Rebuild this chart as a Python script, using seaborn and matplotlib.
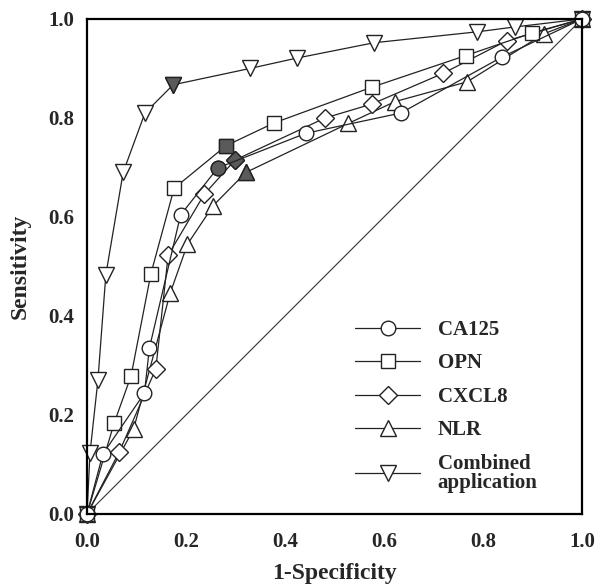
import matplotlib
matplotlib.use("Agg")
import matplotlib.pyplot as plt
import seaborn as sns
import numpy as np
from matplotlib.lines import Line2D
from matplotlib.ticker import MultipleLocator

# ---- data ----
ca125_x = [0, 0.032, 0.116, 0.126, 0.189, 0.264, 0.442, 0.634, 0.838, 1]
ca125_y = [0, 0.121, 0.244, 0.335, 0.604, 0.699, 0.769, 0.810, 0.923, 1]
ca125_best = 5

opn_x = [0, 0.055, 0.089, 0.129, 0.176, 0.281, 0.378, 0.575, 0.765, 0.900, 1]
opn_y = [0, 0.184, 0.279, 0.485, 0.658, 0.744, 0.790, 0.862, 0.926, 0.972, 1]
opn_best = 5

cxcl8_x = [0, 0.065, 0.139, 0.164, 0.237, 0.299, 0.481, 0.575, 0.719, 0.848, 1]
cxcl8_y = [0, 0.125, 0.293, 0.523, 0.646, 0.715, 0.800, 0.828, 0.890, 0.956, 1]
cxcl8_best = 5

nlr_x = [0, 0.094, 0.168, 0.203, 0.255, 0.321, 0.528, 0.622, 0.768, 0.923, 1]
nlr_y = [0, 0.171, 0.446, 0.545, 0.623, 0.690, 0.789, 0.833, 0.873, 0.970, 1]
nlr_best = 5

comb_x = [0, 0.006, 0.022, 0.038, 0.073, 0.117, 0.174, 0.329, 0.424, 0.580, 0.788, 0.865, 1]
comb_y = [0, 0.123, 0.270, 0.483, 0.690, 0.810, 0.867, 0.900, 0.921, 0.952, 0.974, 0.984, 1]
comb_best = 6

labels = ["CA125", "OPN", "CXCL8", "NLR", "Combined\napplication"]
xticks = [0.0, 0.2, 0.4, 0.6, 0.8, 1.0]
yticks = [0.0, 0.2, 0.4, 0.6, 0.8, 1.0]

sns.set_style("white")
plt.rcParams['font.family'] = ['Liberation Serif', 'DejaVu Serif']
plt.rcParams['font.weight'] = 'bold'

fig = plt.figure(figsize=(5.96, 5.84), dpi=100)
ax = fig.add_axes([0.146, 0.12, 0.8305, 0.8475])

# diagonal reference
sns.lineplot(x=[0, 1], y=[0, 1], ax=ax, color='#333333', linewidth=0.8, sort=False)

series = [
    (ca125_x, ca125_y, ca125_best, 'o', 10.5),
    (opn_x, opn_y, opn_best, 's', 10),
    (cxcl8_x, cxcl8_y, cxcl8_best, 'D', 9),
    (nlr_x, nlr_y, nlr_best, '^', 12),
    (comb_x, comb_y, comb_best, 'v', 12),
]

handles = []
for (xs, ys, bi, mk, ms), lab in zip(series, labels):
    handles.append(Line2D([], [], color='#222222', linewidth=0.9, marker=mk,
                          markersize=ms, markerfacecolor='white',
                          markeredgecolor='#222222', markeredgewidth=1.0))

# draw in reverse so the CA125 circles sit on top at the shared end points
for (xs, ys, bi, mk, ms) in series[::-1]:
    sns.lineplot(x=xs, y=ys, ax=ax, sort=False, color='#222222', linewidth=0.9,
                 marker=mk, markersize=ms, markerfacecolor='white',
                 markeredgecolor='#222222', markeredgewidth=1.0, clip_on=False)
    sns.lineplot(x=[xs[bi]], y=[ys[bi]], ax=ax, color='#222222', linewidth=0,
                 marker=mk, markersize=ms, markerfacecolor='#5a5a5a',
                 markeredgecolor='#222222', markeredgewidth=1.0)

ax.set_xlim(0, 1)
ax.set_ylim(0, 1)
ax.xaxis.set_minor_locator(MultipleLocator(0.1))
ax.yaxis.set_minor_locator(MultipleLocator(0.1))
ax.set_xticks(xticks)
ax.set_yticks(yticks)
ax.set_xticklabels([f"{t:.1f}" for t in xticks], fontsize=15, fontweight='bold')
ax.set_yticklabels([f"{t:.1f}" for t in yticks], fontsize=15, fontweight='bold')
ax.tick_params(axis='both', which='both', direction='in', length=7, width=1.2,
               color='black')
ax.tick_params(axis='x', which='major', pad=13)
ax.tick_params(axis='y', which='major', pad=9)
ax.tick_params(axis='x', which='both', top=False)
ax.tick_params(axis='y', which='both', right=False)
for sp in ax.spines.values():
    sp.set_linewidth(1.6)
    sp.set_color('black')

ax.set_xlabel("1-Specificity", fontsize=17, fontweight='bold', labelpad=8)
ax.set_ylabel("Sensitivity", fontsize=17, fontweight='bold', labelpad=13)

leg = ax.legend(handles, labels, loc='upper left', bbox_to_anchor=(0.504, 0.43),
                frameon=False, handlelength=3.1, labelspacing=0.65,
                handletextpad=0.85, prop={'weight': 'bold', 'size': 15,
                                          'family': 'Liberation Serif'})
for t in leg.get_texts():
    t.set_linespacing(0.9)

fig.savefig("out.png", dpi=100)
